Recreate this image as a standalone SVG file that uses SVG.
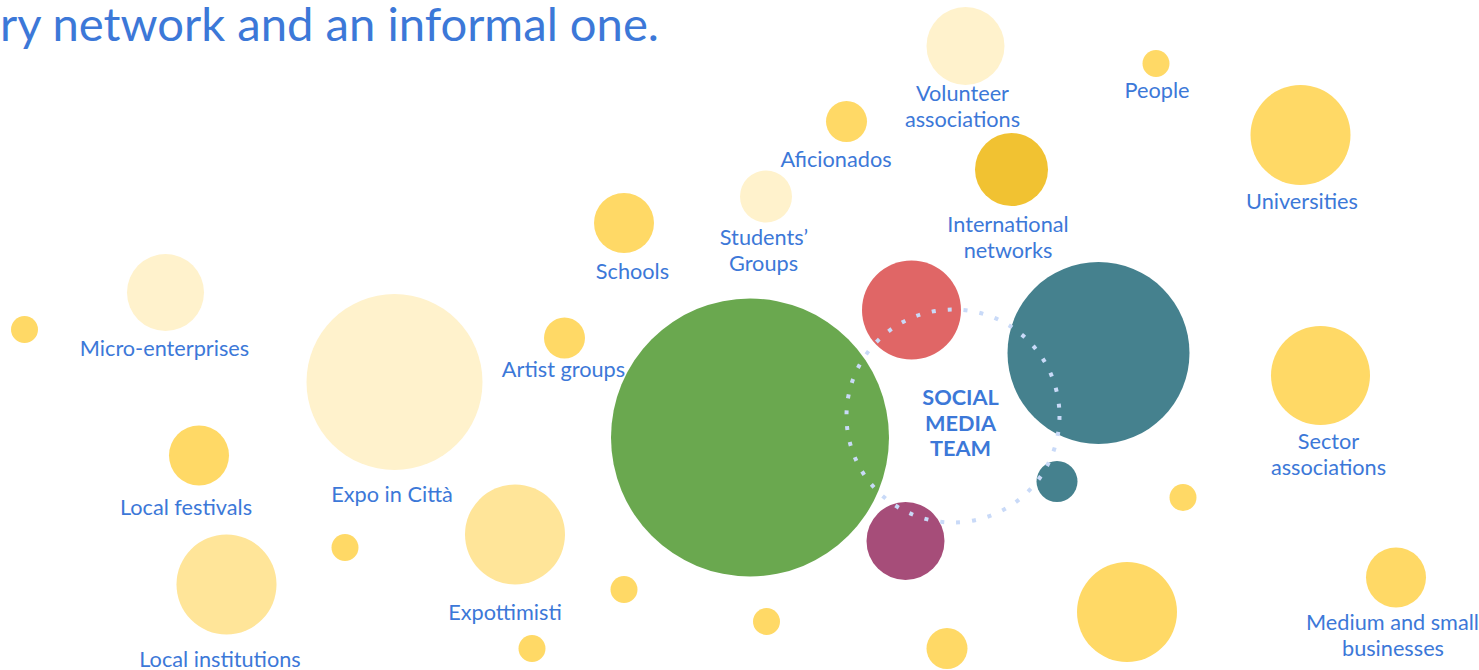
<svg xmlns="http://www.w3.org/2000/svg" width="1479" height="670" viewBox="0 0 1479 670">
  <style>
    .lbl { font-family: Lato, "Liberation Sans", sans-serif; font-size: 21.7px; fill: #3c78d8; text-anchor: middle; }
    .core { font-weight: bold; }
    .title { font-family: Lato, "Liberation Sans", sans-serif; font-size: 47.2px; fill: #3c78d8; text-anchor: end; }
    .y1 { fill: #ffd966; }
    .y2 { fill: #fff2cc; }
    .y3 { fill: #ffe599; }
    .y4 { fill: #f1c232; }
    .ring { fill: none; stroke: #c9daf8; stroke-width: 4; stroke-dasharray: 4 12; }
  </style>
  <rect width="1479" height="670" fill="#ffffff"/>

  <text class="title" x="659" y="41">ry network and an informal one.</text>

  <!-- outer network -->
  <g id="volunteer-associations">
    <circle class="y2" cx="965.5" cy="46" r="39"/>
    <text class="lbl" x="962.5" y="101">Volunteer</text>
    <text class="lbl" x="962.5" y="127">associations</text>
  </g>
  <g id="people">
    <circle class="y1" cx="1156" cy="63.5" r="13.5"/>
    <text class="lbl" x="1157" y="98">People</text>
  </g>
  <g id="universities">
    <circle class="y1" cx="1300.5" cy="135" r="50"/>
    <text class="lbl" x="1302" y="209">Universities</text>
  </g>
  <g id="aficionados">
    <circle class="y1" cx="846.5" cy="121.5" r="20.5"/>
    <text class="lbl" x="836" y="167">Aficionados</text>
  </g>
  <g id="international-networks">
    <circle class="y4" cx="1011.5" cy="169.5" r="36.5"/>
    <text class="lbl" x="1008" y="232">International</text>
    <text class="lbl" x="1008" y="258">networks</text>
  </g>
  <g id="students-groups">
    <circle class="y2" cx="766" cy="196.5" r="26"/>
    <text class="lbl" x="764" y="245">Students’</text>
    <text class="lbl" x="763.5" y="271">Groups</text>
  </g>
  <g id="schools">
    <circle class="y1" cx="624" cy="223" r="30"/>
    <text class="lbl" x="632.5" y="279">Schools</text>
  </g>
  <g id="micro-enterprises">
    <circle class="y2" cx="165.5" cy="292.5" r="38.5"/>
    <text class="lbl" x="164.5" y="356">Micro-enterprises</text>
  </g>
  <g id="dot-west">
    <circle class="y1" cx="24.5" cy="329.5" r="13.5"/>
  </g>
  <g id="expo-in-citta">
    <circle class="y2" cx="394.5" cy="382" r="88"/>
    <text class="lbl" x="392" y="502">Expo in Città</text>
  </g>
  <g id="artist-groups">
    <circle class="y1" cx="564.5" cy="338" r="20.5"/>
    <text class="lbl" x="563.5" y="377">Artist groups</text>
  </g>
  <g id="local-festivals">
    <circle class="y1" cx="199" cy="455.5" r="30"/>
    <text class="lbl" x="186" y="515">Local festivals</text>
  </g>
  <g id="local-institutions">
    <circle class="y3" cx="226.5" cy="584.5" r="50"/>
    <text class="lbl" x="220" y="667">Local institutions</text>
  </g>
  <g id="dot-south-1">
    <circle class="y1" cx="345" cy="547.5" r="13.5"/>
  </g>
  <g id="expottimisti">
    <circle class="y3" cx="515" cy="534.5" r="50"/>
    <text class="lbl" x="505" y="620">Expottimisti</text>
  </g>
  <g id="dot-south-2">
    <circle class="y1" cx="624" cy="589.5" r="13.5"/>
  </g>
  <g id="dot-south-3">
    <circle class="y1" cx="532" cy="648.5" r="13.5"/>
  </g>
  <g id="dot-south-4">
    <circle class="y1" cx="766.5" cy="621.5" r="13.5"/>
  </g>
  <g id="dot-south-5">
    <circle class="y1" cx="947" cy="648.5" r="20.5"/>
  </g>
  <g id="bubble-south-east">
    <circle class="y1" cx="1127" cy="612" r="50"/>
  </g>
  <g id="sector-associations">
    <circle class="y1" cx="1320.5" cy="375.5" r="49.5"/>
    <text class="lbl" x="1328.5" y="449">Sector</text>
    <text class="lbl" x="1328.5" y="475">associations</text>
  </g>
  <g id="dot-east">
    <circle class="y1" cx="1183" cy="497.5" r="13.5"/>
  </g>
  <g id="medium-small-businesses">
    <circle class="y1" cx="1396" cy="577.5" r="30"/>
    <text class="lbl" x="1392.5" y="630">Medium and small</text>
    <text class="lbl" x="1393" y="656">businesses</text>
  </g>

  <!-- core team -->
  <g id="team-green">
    <circle cx="750" cy="437.5" r="139" fill="#6aa84f"/>
  </g>
  <g id="team-red">
    <circle cx="911.5" cy="310" r="49.5" fill="#e06666"/>
  </g>
  <g id="team-teal">
    <circle cx="1098.5" cy="353" r="91" fill="#45818e"/>
  </g>
  <g id="team-teal-small">
    <circle cx="1057" cy="481.5" r="20.5" fill="#45818e"/>
  </g>
  <g id="team-purple">
    <circle cx="905.5" cy="541" r="39" fill="#a64d79"/>
  </g>
  <g id="social-media-team">
    <text class="lbl core" x="960.5" y="405">SOCIAL</text>
    <text class="lbl core" x="960.5" y="431">MEDIA</text>
    <text class="lbl core" x="960.5" y="456">TEAM</text>
  </g>

  <g id="connectors">
    <circle class="ring" cx="953" cy="416" r="106.5"/>
  </g>
</svg>
